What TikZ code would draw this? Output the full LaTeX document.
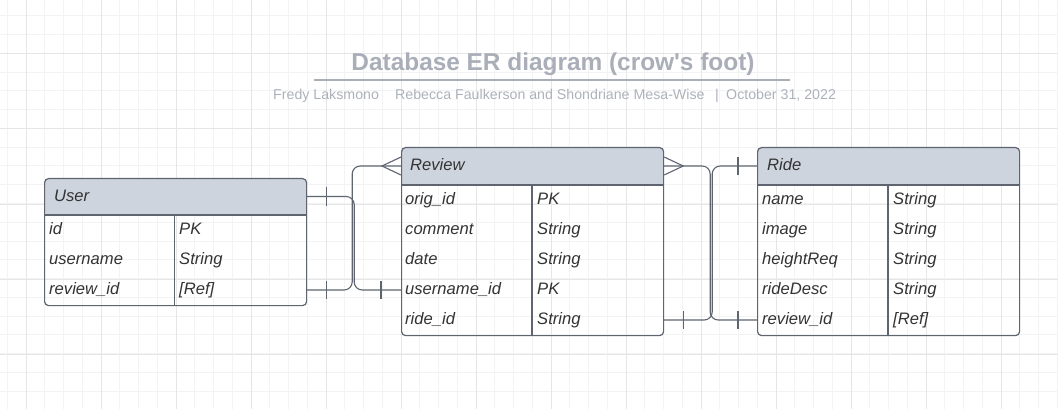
\documentclass[tikz,border=0pt]{standalone}
\usepackage{fontspec}
\setmainfont{Liberation Sans}
\usetikzlibrary{positioning}

\definecolor{edge}{HTML}{5E6470}
\definecolor{headfill}{HTML}{CED4DD}
\definecolor{ink}{HTML}{333333}
\definecolor{titlegray}{HTML}{A9AEB8}
\definecolor{subgray}{HTML}{ADB2BA}
\definecolor{minorgrid}{HTML}{F3F3F3}
\definecolor{majorgrid}{HTML}{E6E6E6}

\begin{document}
\begin{tikzpicture}[x=1pt, y=-1pt,
    entity/.style = {draw=edge, line width=1.2pt, rounded corners=4pt, anchor=north west, minimum width=262pt, inner sep=0pt,
      path picture={\fill[headfill] (path picture bounding box.north west) rectangle ([yshift=-#1]path picture bounding box.north east);}},
    rule/.style = {draw=edge, line width=1.2pt},
    field/.style = {anchor=west, inner sep=0pt, text height=9pt, text depth=0pt, text=ink, font=\fontsize{16.6}{18}\selectfont\itshape},
    conn/.style = {draw=edge, line width=1.1pt, rounded corners=8pt},
    bar/.style = {draw=edge, line width=1.1pt},
    title/.style = {inner sep=0pt, text=titlegray, font=\fontsize{24.4}{28}\selectfont\bfseries},
    subtitle/.style = {inner sep=0pt, anchor=base west, text=subgray, font=\fontsize{14.2}{16}\selectfont}]

      \useasboundingbox (0,0) rectangle (1058,409);
      \fill[white] (0,0) rectangle (1058,409);

      % background grid
      \foreach \k in {0, ..., 56}
        \draw[minorgrid, line width=1pt] ({7.25+18.75*\k},0) -- ({7.25+18.75*\k},409);
      \foreach \k in {0, ..., 22}
        \draw[minorgrid, line width=1pt] (0,{-2.75+18.75*\k}) -- (1058,{-2.75+18.75*\k});
      \foreach \k in {0, ..., 13}
        \draw[majorgrid, line width=1pt] ({26+75*\k},0) -- ({26+75*\k},409);
      \foreach \k in {0, ..., 4}
        \draw[majorgrid, line width=1pt] (0,{54+75*\k}) -- (1058,{54+75*\k});

      % title
      \node[title, anchor=base] (title) at (553,70.5) {Database ER diagram (crow\textquotesingle s foot)};
      \draw[titlegray, line width=1.3pt] (314,80) -- (790,80);
      \node[subtitle] (author) at (273,100) {Fredy Laksmono};
      \node[subtitle] (team) at (395,100) {Rebecca Faulkerson and Shondriane Mesa-Wise};
      \node[subtitle] (sep) at (715,100) {|};
      \node[subtitle] (date) at (726,100) {October 31, 2022};

      % User
      \node[entity=37pt, minimum height=127pt] (User) at (44,178) {};
      \draw[rule] ([yshift=-37pt]User.north west) -- ([yshift=-37pt]User.north east);
      \draw[rule] ([xshift=130.5pt, yshift=-37pt]User.north west) -- ([xshift=130.5pt]User.south west);
      \node[field] (User_0) at (54,196.5) {User};
      \foreach \f/\t [count=\i] in {id/PK, username/String, review\_id/{[Ref]}} {
        \node[field] (User_\i) at (49,{200+30*\i}) {\f};
        \node[field] (User_t\i) at (179,{200+30*\i}) {\t};
      }

      % Review
      \node[entity=38pt, minimum height=188pt] (Review) at (401,147) {};
      \draw[rule] ([yshift=-38pt]Review.north west) -- ([yshift=-38pt]Review.north east);
      \draw[rule] ([xshift=131pt, yshift=-38pt]Review.north west) -- ([xshift=131pt]Review.south west);
      \node[field] (Review_0) at (410,166) {Review};
      \foreach \f/\t [count=\i] in {orig\_id/PK, comment/String, date/String, username\_id/PK, ride\_id/String} {
        \node[field] (Review_\i) at (405,{170+30*\i}) {\f};
        \node[field] (Review_t\i) at (537,{170+30*\i}) {\t};
      }

      % Ride
      \node[entity=38pt, minimum height=188pt] (Ride) at (757,147) {};
      \draw[rule] ([yshift=-38pt]Ride.north west) -- ([yshift=-38pt]Ride.north east);
      \draw[rule] ([xshift=131pt, yshift=-38pt]Ride.north west) -- ([xshift=131pt]Ride.south west);
      \node[field] (Ride_0) at (767,166) {Ride};
      \foreach \f/\t [count=\i] in {name/String, image/String, heightReq/String, rideDesc/String, review\_id/{[Ref]}} {
        \node[field] (Ride_\i) at (762,{170+30*\i}) {\f};
        \node[field] (Ride_t\i) at (893,{170+30*\i}) {\t};
      }

      % relations
      \draw[conn] (User_0 -| User.east) -- ++(47,0) |- (Review_4 -| Review.west);
      \draw[conn] (User_3 -| User.east) -- ++(45,0) |- (Review_0 -| Review.west);
      \draw[conn] (Review_0 -| Review.east) -- ++(46,0) |- (Ride_5 -| Ride.west);
      \draw[conn] (Review_5 -| Review.east) -- ++(48,0) |- (Ride_0 -| Ride.west);

      % crow's feet
      \draw[bar] ([yshift=9pt]Review_0 -| Review.west) -- ++(-19,9) -- ++(19,9);
      \draw[bar] ([yshift=9pt]Review_0 -| Review.east) -- ++(19,9) -- ++(-19,9);

      % one marks
      \draw[bar] ([xshift=19pt, yshift=9pt]User_0 -| User.east) -- ++(0,18);
      \draw[bar] ([xshift=19pt, yshift=9pt]User_3 -| User.east) -- ++(0,18);
      \draw[bar] ([xshift=-20pt, yshift=9pt]Review_4 -| Review.west) -- ++(0,18);
      \draw[bar] ([xshift=19pt, yshift=9pt]Review_5 -| Review.east) -- ++(0,18);
      \draw[bar] ([xshift=-19pt, yshift=9pt]Ride_0 -| Ride.west) -- ++(0,18);
      \draw[bar] ([xshift=-19pt, yshift=9pt]Ride_5 -| Ride.west) -- ++(0,18);

      \end{tikzpicture}
\end{document}
